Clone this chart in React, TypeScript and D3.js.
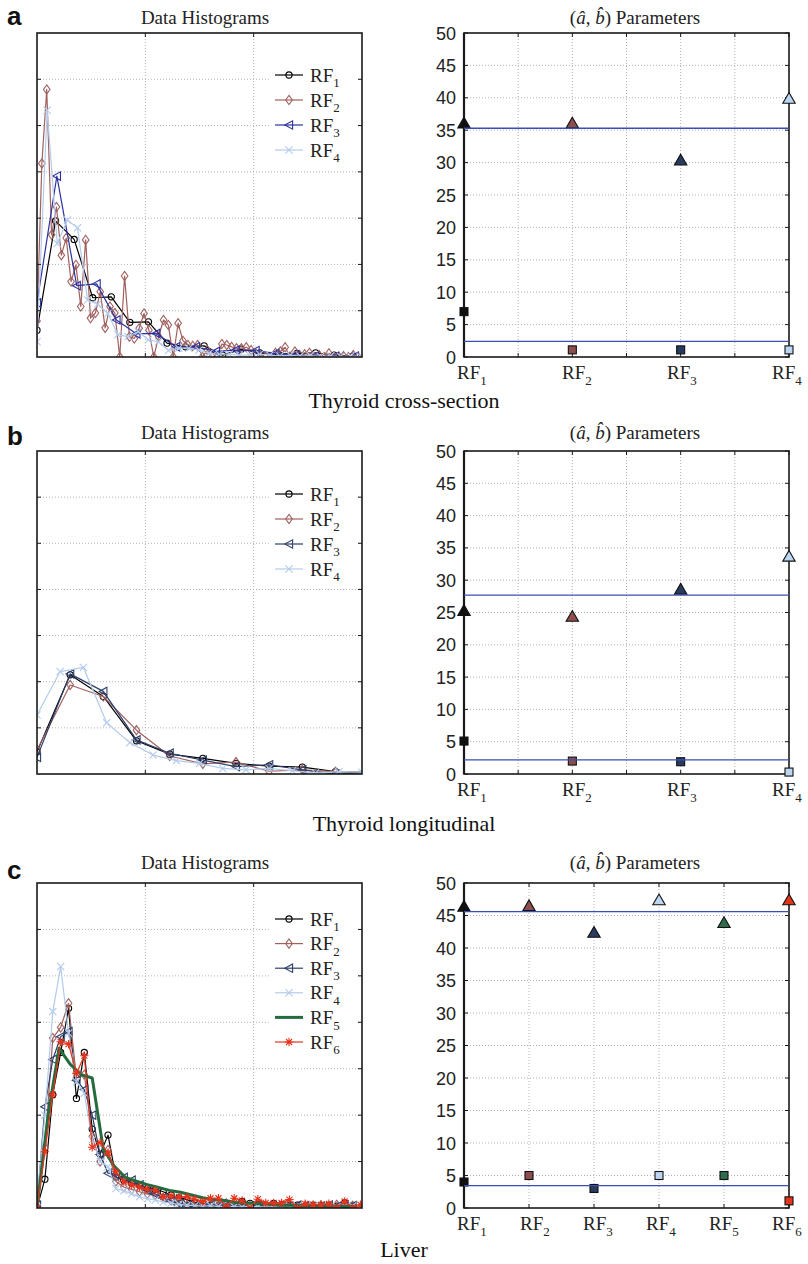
import React, { useEffect, useRef } from "react";
import * as d3 from "d3";

// ---- histogram data (heights in grid rows) ----
// thyroid cross-section, x axis runs 0..175
const crossRF1 = [0.58, 2.94, 2.54, 1.28, 1.3, 0.75, 0.76, 0.3, 0.22, 0.24, 0.04, 0.17, 0.09, 0.06, 0.08, 0.09, 0.04, 0.02];
const crossRF2 = [
  0.78, 4.18, 5.78, 2.64, 3.24, 2.2, 2.57, 1.63, 1.99, 1.09, 2.53, 0.84, 0.95, 1.41, 0.63, 1.09, 0.95, 0, 1.75, 0.44,
  0.4, 0.62, 0.94, 0.58, 0, 0.44, 0.8, 0.69, 0, 0.73, 0.35, 0.26, 0.24, 0.26, 0, 0.15, 0, 0, 0.28, 0.26,
  0.22, 0.19, 0.19, 0.21, 0.15, 0.08, 0, 0, 0, 0.09, 0.12, 0.21, 0.01, 0.12, 0.04, 0.06, 0.09, 0, 0.04, 0,
  0.08, 0, 0.01, 0.02, 0, 0.04, 0,
];
const crossRF3 = [1.17, 3.91, 1.54, 1.58, 0.8, 0.5, 0.51, 0.22, 0.22, 0.12, 0.15, 0.14, 0.08, 0.04, 0.02, 0.01, 0.02];
const crossRF4 = [
  0.33, 5.33, 2.45, 2.96, 2.79, 1.23, 1.14, 0.94, 0.48, 0.44, 0.55, 0.37, 0.33, 0.14, 0.19, 0.19, 0.15, 0.08, 0.06, 0.06,
  0.04, 0.04, 0.06, 0.04, 0.02, 0.04, 0.02, 0.03, 0.01, 0.02, 0.01, 0.02, 0.01,
];
const crossBins = [10, 2.62, 10.7, 5.45];

// thyroid longitudinal, x axis runs 0..9.8
const longRF1 = [0.48, 2.15, 1.68, 0.72, 0.43, 0.34, 0.23, 0.17, 0.15, 0.05, 0.03];
const longRF2 = [0.52, 1.93, 1.68, 0.95, 0.39, 0.22, 0.26, 0.06, 0.09, 0.05, 0.03];
const longRF3 = [0.36, 2.17, 1.79, 0.74, 0.45, 0.3, 0.16, 0.2, 0.09, 0.0, 0.03];
const longRF4 = [1.28, 2.22, 2.31, 1.11, 0.68, 0.41, 0.29, 0.23, 0.12, 0.09, 0.12, 0.07, 0.02, 0.05, 0.04];
const longBins = [1, 1, 1, 0.7];

// liver, x axis runs 0..41.2
const liverRF1 = [
  0, 0.62, 2.44, 3.35, 4.3, 2.36, 3.35, 1.7, 1.16, 1.57, 0.67, 0.6, 0.53, 0.49, 0.42, 0.4, 0.35, 0.28, 0.22, 0.18,
  0.12, 0.1, 0.06, 0.05, 0.08, 0.06, 0.14, 0.1, 0.08, 0.06, 0.1, 0.08, 0.05, 0.06, 0.04, 0.06, 0.05, 0.06, 0.04, 0.11, 0.05,
];
const liverRF2 = [
  0, 1.3, 3.66, 3.89, 4.41, 2.8, 2.87, 1.54, 1.0, 1.25, 0.57, 0.45, 0.4, 0.35, 0.3, 0.28, 0.22, 0.16, 0.12, 0.06,
  0.1, 0.05, 0.08, 0.05, 0.1, 0.06, 0.05, 0.04, 0.12, 0.05, 0.06, 0.04, 0.08, 0.03, 0.05, 0.04, 0.06, 0.03, 0.07, 0.04, 0.05,
];
const liverRF3 = [
  0.06, 2.18, 3.2, 3.69, 3.8, 2.75, 2.55, 2.0, 1.15, 0.75, 0.72, 0.66, 0.6, 0.5, 0.38, 0.3, 0.22, 0.15, 0.1, 0.05,
  0.03, 0.02, 0.06, 0.03, 0.05, 0.04, 0.02, 0.05, 0.06, 0.03, 0.02, 0.05, 0.04, 0.06, 0.05, 0.02, 0.04, 0.06, 0.03, 0.07, 0.05,
];
const liverRF4 = [
  0.14, 2.0, 4.23, 5.2, 3.77, 2.72, 2.47, 1.47, 1.0, 0.89, 0.42, 0.37, 0.31, 0.24, 0.2, 0.17, 0.13, 0.1, 0.08, 0.06,
  0.05, 0.04, 0.05, 0.03, 0.04, 0.03, 0.02, 0.04, 0.03, 0.02, 0.03, 0.02, 0.04, 0.03, 0.02, 0.03, 0.02, 0.03, 0.02, 0.03, 0.04,
];
const liverRF5 = [
  0, 2.0, 3.44, 3.1, 2.87, 2.8, 1.27, 0.9, 0.66, 0.58, 0.5, 0.44, 0.38, 0.34, 0.28, 0.22, 0.18, 0.16, 0.12, 0.1,
  0.1, 0.08, 0.06, 0.06, 0.05, 0.05, 0.04, 0.04, 0.03, 0.04,
];
const liverRF6 = [
  0, 1.21, 2.44, 3.58, 3.53, 2.9, 3.28, 1.31, 1.41, 1.19, 0.78, 0.57, 0.5, 0.45, 0.4, 0.38, 0.24, 0.26, 0.24, 0.24,
  0.19, 0.14, 0.21, 0.21, 0.03, 0.21, 0.16, 0, 0.19, 0.11, 0.11, 0.11, 0.18, 0, 0.09, 0.07, 0.07, 0.09, 0, 0.14, 0, 0.07,
];
const liverBins = [1, 1, 1, 1, 1.4, 1];

// ---- (a, b) parameters ----
const crossA = [36, 36, 30.3, 39.8];
const crossB = [7, 1.1, 1.1, 1.1];
const crossMean = [35.3, 2.4];
const longA = [25.2, 24.3, 28.5, 33.6];
const longB = [5.1, 2.0, 1.9, 0.3];
const longMean = [27.7, 2.2];
const liverA = [46.3, 46.4, 42.3, 47.3, 43.8, 47.3];
const liverB = [4.0, 5.0, 3.0, 5.0, 5.0, 1.1];
const liverMean = [45.6, 3.45];

const panelLetters = ["a", "b", "c"];
const captions = ["Thyroid cross-section", "Thyroid longitudinal", "Liver"];

// ---- styles ----
const lineColors = ["#000000", "#a0615f", "#2c3f6c", "#b3cbea", "#246b3d", "#e8331b"];
const fillColors = ["#111111", "#8d4f4d", "#283a60", "#bcd5f0", "#2e6c4c", "#e2361b"];
const markers = ["o", "d", "<", "x", "", "*"];
const serif = "'Liberation Serif', 'DejaVu Serif', serif";
const sans = "'Liberation Sans', Arial, sans-serif";
const gridColor = "#b4b4b4";

const markerPath = (m: string) => {
  switch (m) {
    case "o":
      return d3.symbol(d3.symbolCircle, 30)();
    case "d":
      return "M0,-4.6L3.3,0L0,4.6L-3.3,0Z";
    case "<":
      return "M-4.2,0L3.6,-4.2L3.6,4.2Z";
    case "x":
      return "M-3.6,-3.6L3.6,3.6M-3.6,3.6L3.6,-3.6";
    case "*":
      return "M-4.2,0L4.2,0M0,-4.2L0,4.2M-3,-3L3,3M-3,3L3,-3";
    default:
      return "";
  }
};

const addRF = (sel: any, i: number, size: number, sub: number) => {
  sel.append("tspan").text("RF");
  sel.append("tspan").attr("font-size", sub).attr("dy", size * 0.3).text(String(i + 1));
};

export default function App() {
  const ref = useRef<SVGSVGElement>(null);

  useEffect(() => {
    const svg = d3.select(ref.current);
    svg.selectAll("*").remove();

    const drawHist = (p: any) => {
      const { id, top, bottom, xMax, series, bins, rf3Color, legendY, legendDy, titleY } = p;
      const left = 37;
      const right = 362;
      const x = d3.scaleLinear().domain([0, xMax]).range([left, right]);
      const y = d3.scaleLinear().domain([0, 7]).range([bottom, top]);
      const g = svg.append("g");

      g.append("clipPath").attr("id", id).append("rect")
        .attr("x", left).attr("y", top).attr("width", right - left).attr("height", bottom - top);

      const gx = [xMax / 3, (2 * xMax) / 3];
      const gy = d3.range(1, 7);
      g.selectAll(".gx").data(gx).enter().append("line")
        .attr("x1", (d) => x(d)).attr("x2", (d) => x(d)).attr("y1", top).attr("y2", bottom)
        .attr("stroke", gridColor).attr("stroke-dasharray", "1,2");
      g.selectAll(".gy").data(gy).enter().append("line")
        .attr("x1", left).attr("x2", right).attr("y1", (d) => y(d)).attr("y2", (d) => y(d))
        .attr("stroke", gridColor).attr("stroke-dasharray", "1,2");

      const plot = g.append("g").attr("clip-path", `url(#${id})`);
      const line = d3.line<number[]>().x((d) => x(d[0])).y((d) => y(d[1]));
      series.forEach((vals: number[], i: number) => {
        const color = i === 2 ? rf3Color : lineColors[i];
        const pts = vals.map((v, j) => [j * bins[i], v]);
        plot.append("path").datum(pts).attr("d", line).attr("fill", "none")
          .attr("stroke", color).attr("stroke-width", i === 4 ? 3 : 1.2).attr("stroke-linejoin", "round");
        if (markers[i]) {
          plot.append("g").selectAll("path").data(pts).enter().append("path")
            .attr("transform", (d) => `translate(${x(d[0])},${y(d[1])})`)
            .attr("d", markerPath(markers[i]))
            .attr("fill", "none").attr("stroke", color).attr("stroke-width", 1.1);
        }
      });

      // box and ticks
      g.append("rect").attr("x", left).attr("y", top).attr("width", right - left).attr("height", bottom - top)
        .attr("fill", "none").attr("stroke", "#1a1a1a").attr("stroke-width", 1.6);
      gy.forEach((v) => {
        g.append("line").attr("x1", left).attr("x2", left + 4).attr("y1", y(v)).attr("y2", y(v)).attr("stroke", "#1a1a1a");
        g.append("line").attr("x1", right - 4).attr("x2", right).attr("y1", y(v)).attr("y2", y(v)).attr("stroke", "#1a1a1a");
      });
      gx.forEach((v) => {
        g.append("line").attr("x1", x(v)).attr("x2", x(v)).attr("y1", bottom).attr("y2", bottom - 4).attr("stroke", "#1a1a1a");
        g.append("line").attr("x1", x(v)).attr("x2", x(v)).attr("y1", top).attr("y2", top + 4).attr("stroke", "#1a1a1a");
      });

      // legend
      const n = series.length;
      g.append("rect").attr("x", 270).attr("y", legendY - 14).attr("width", 88)
        .attr("height", legendDy * (n - 1) + 30).attr("fill", "#fff");
      series.forEach((_: number[], i: number) => {
        const ly = legendY + i * legendDy;
        const color = i === 2 ? rf3Color : lineColors[i];
        g.append("line").attr("x1", 275).attr("x2", 303).attr("y1", ly).attr("y2", ly)
          .attr("stroke", color).attr("stroke-width", i === 4 ? 3 : 1.2);
        if (markers[i]) {
          g.append("path").attr("transform", `translate(289,${ly})`).attr("d", markerPath(markers[i]))
            .attr("fill", "none").attr("stroke", color).attr("stroke-width", 1.1);
        }
        const t = g.append("text").attr("x", 310).attr("y", ly + 6.5)
          .attr("font-family", serif).attr("font-size", 19).attr("fill", "#222");
        addRF(t, i, 19, 13);
      });

      g.append("text").attr("x", 205).attr("y", titleY).attr("text-anchor", "middle")
        .attr("font-family", serif).attr("font-size", 19).attr("fill", "#222").text("Data Histograms");
    };

    const drawParams = (p: any) => {
      const { top, bottom, a, b, mean, titleY } = p;
      const left = 464;
      const right = 789;
      const n = a.length;
      const x = d3.scaleLinear().domain([1, n]).range([left, right]);
      // tick labels sit on a slightly narrower span than the ticks themselves
      const xl = d3.scaleLinear().domain([1, n]).range([left - 7, right - 17]);
      const y = d3.scaleLinear().domain([0, 50]).range([bottom, top]);
      const xt = x.ticks(6);
      const yt = y.ticks(10);
      const g = svg.append("g");

      g.selectAll(".gx").data(xt.slice(1, -1)).enter().append("line")
        .attr("x1", (d) => x(d)).attr("x2", (d) => x(d)).attr("y1", top).attr("y2", bottom)
        .attr("stroke", gridColor).attr("stroke-dasharray", "1,2");
      g.selectAll(".gy").data(yt.slice(1, -1)).enter().append("line")
        .attr("x1", left).attr("x2", right).attr("y1", (d) => y(d)).attr("y2", (d) => y(d))
        .attr("stroke", gridColor).attr("stroke-dasharray", "1,2");

      g.append("rect").attr("x", left).attr("y", top).attr("width", right - left).attr("height", bottom - top)
        .attr("fill", "none").attr("stroke", "#1a1a1a").attr("stroke-width", 1.6);
      g.append("line").attr("x1", left).attr("x2", left).attr("y1", top).attr("y2", bottom)
        .attr("stroke", "#1a1a1a").attr("stroke-width", 2.2);
      yt.forEach((v) => {
        g.append("line").attr("x1", left).attr("x2", left + 4).attr("y1", y(v)).attr("y2", y(v)).attr("stroke", "#1a1a1a");
        g.append("line").attr("x1", right - 4).attr("x2", right).attr("y1", y(v)).attr("y2", y(v)).attr("stroke", "#1a1a1a");
        g.append("text").attr("x", 456).attr("y", y(v) + 6.5).attr("text-anchor", "end")
          .attr("font-family", sans).attr("font-size", 18).attr("fill", "#222").text(String(v));
      });
      xt.forEach((v) => {
        g.append("line").attr("x1", x(v)).attr("x2", x(v)).attr("y1", bottom).attr("y2", bottom - 4).attr("stroke", "#1a1a1a");
        g.append("line").attr("x1", x(v)).attr("x2", x(v)).attr("y1", top).attr("y2", top + 4).attr("stroke", "#1a1a1a");
      });
      a.forEach((_: number, i: number) => {
        const t = g.append("text").attr("x", xl(i + 1)).attr("y", bottom + 22)
          .attr("font-family", serif).attr("font-size", 19).attr("fill", "#222");
        addRF(t, i, 19, 13);
      });

      g.selectAll(".tri").data(a).enter().append("path")
        .attr("transform", (d: number, i: number) => `translate(${x(i + 1)},${y(d)})`)
        .attr("d", "M0,-6.5L6.2,4.2L-6.2,4.2Z")
        .attr("fill", (_: number, i: number) => fillColors[i]).attr("stroke", "#111").attr("stroke-width", 1.1);
      g.selectAll(".sq").data(b).enter().append("rect")
        .attr("x", (_: number, i: number) => x(i + 1) - 4).attr("y", (d: number) => y(d) - 4)
        .attr("width", 8).attr("height", 8)
        .attr("fill", (_: number, i: number) => fillColors[i]).attr("stroke", "#111").attr("stroke-width", 1.1);
      g.selectAll(".mean").data(mean).enter().append("line")
        .attr("x1", left).attr("x2", right).attr("y1", (d: number) => y(d)).attr("y2", (d: number) => y(d))
        .attr("stroke", "#3a4fb5").attr("stroke-width", 1.3);

      const t = g.append("text").attr("x", 635).attr("y", titleY).attr("text-anchor", "middle")
        .attr("font-family", serif).attr("font-size", 19).attr("fill", "#222");
      t.append("tspan").text("(");
      t.append("tspan").attr("font-style", "italic").text("\u00e2");
      t.append("tspan").text(",  ");
      t.append("tspan").attr("font-style", "italic").text("b\u0302");
      t.append("tspan").text(") Parameters");
    };

    const panels = [
      { top: 33, bottom: 357, titleY: 24, letterY: 25, capY: 408 },
      { top: 451, bottom: 774, titleY: 439, letterY: 445, capY: 831 },
      { top: 883, bottom: 1208, titleY: 869, letterY: 879, capY: 1257 },
    ];

    drawHist({ id: "clipA", ...panels[0], xMax: 175, series: [crossRF1, crossRF2, crossRF3, crossRF4], bins: crossBins, rf3Color: "#2b31a0", legendY: 75, legendDy: 25 });
    drawHist({ id: "clipB", ...panels[1], xMax: 9.8, series: [longRF1, longRF2, longRF3, longRF4], bins: longBins, rf3Color: "#2c3f6c", legendY: 494, legendDy: 25 });
    drawHist({ id: "clipC", ...panels[2], xMax: 41.2, series: [liverRF1, liverRF2, liverRF3, liverRF4, liverRF5, liverRF6], bins: liverBins, rf3Color: "#2c3f6c", legendY: 919, legendDy: 24.6 });

    drawParams({ ...panels[0], a: crossA, b: crossB, mean: crossMean });
    drawParams({ ...panels[1], a: longA, b: longB, mean: longMean });
    drawParams({ ...panels[2], a: liverA, b: liverB, mean: liverMean });

    panels.forEach((p, i) => {
      svg.append("text").attr("x", 7).attr("y", p.letterY).attr("font-family", sans).attr("font-weight", "bold")
        .attr("font-size", 26).attr("fill", "#111").text(panelLetters[i]);
      svg.append("text").attr("x", 404).attr("y", p.capY).attr("text-anchor", "middle")
        .attr("font-family", serif).attr("font-size", 22).attr("fill", "#111").text(captions[i]);
    });
  }, []);

  return (
    <svg
      ref={ref}
      width={808}
      height={1264}
      style={{ position: "absolute", left: 0, top: 0, background: "#fff" }}
    />
  );
}
